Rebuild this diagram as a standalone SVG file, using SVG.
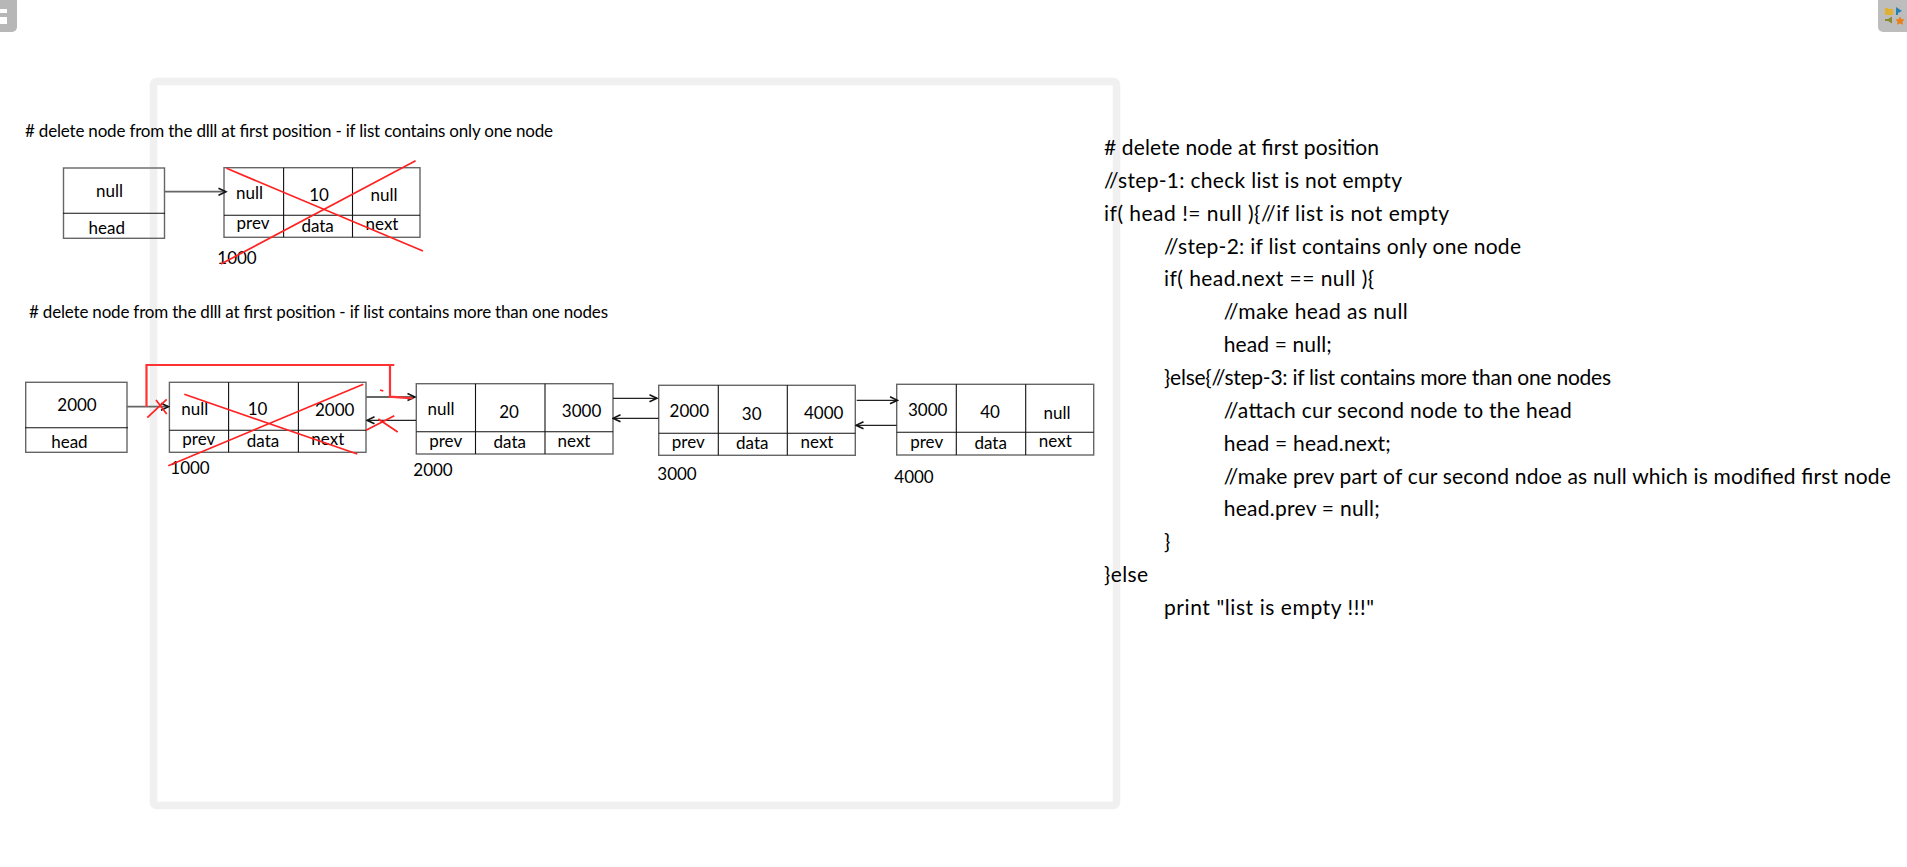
<svg xmlns="http://www.w3.org/2000/svg" width="1907" height="867" viewBox="0 0 1907 867">
<style>
text{font-family:"Lato","Noto Sans","DejaVu Sans",sans-serif;fill:#000}
.t{font-size:17px;text-anchor:middle}
.h{font-size:17px}
.c{font-size:21px}
.box{fill:none;stroke:#666;stroke-width:1.4}
.div{fill:none;stroke:#111;stroke-width:1.1}
.a{fill:none;stroke:#222;stroke-width:1.3;marker-end:url(#arrow)}
.g{stroke:#666;stroke-width:1.8}
.r{fill:none;stroke:#f22;stroke-width:1.7}
.rb{fill:none;stroke:#f33;stroke-width:2.2}
</style>
<defs>
<marker id="arrow" markerUnits="userSpaceOnUse" markerWidth="10" markerHeight="10" refX="8.500" refY="5" orient="auto"><path d="M1 1.500 L8.500 5 L1 8.500" fill="none" stroke="#111" stroke-width="1.500"/></marker>
</defs>
<rect id="chrome-left" x="-12" y="-12" width="29" height="44" rx="5" fill="#b7b7b7"/>
<path d="M0 9H7V13H0ZM0 17H7V24H0Z" fill="#fff"/>
<g id="chrome-right">
<rect x="1878" y="-12" width="41" height="44" rx="5" fill="#bdbdbd"/>
<path d="M1885 8h3l1 1h4v6h-8z" fill="#e0b030"/>
<path d="M1896 7l6 4-4 2v2h-2z" fill="#2a80b0"/>
<path d="M1885 19l3 0 4-2.500v7l-4-2.500h-3z" fill="#8a8a30"/>
<path d="M1900 16.500l1.500 2.500 3 .5-2 2.200.5 3-3-1.200-3 1.200.5-3-2-2.200 3-.5z" fill="#e98020"/>
</g>
<rect id="frame" x="153.500" y="81.500" width="963" height="724" rx="3" fill="none" stroke="#f0f0f0" stroke-width="7.500"/>
<text id="title-1" class="h" x="25" y="137.300" textLength="528" lengthAdjust="spacing"># delete node from the dlll at first position - if list contains only one node</text>
<text id="title-2" class="h" x="29" y="318" textLength="579" lengthAdjust="spacing"># delete node from the dlll at first position - if list contains more than one nodes</text>

<g id="head-1">
<rect class="box" x="63.500" y="168" width="101" height="70.300"/>
<path class="div" d="M63 213.300H165"/>
<text class="t" x="109.500" y="197.300">null</text>
<text class="t" x="106.800" y="234">head</text>
</g>
<g id="node-single">
<rect class="box" x="224" y="167.700" width="196" height="69.600"/>
<path class="div" d="M283.600 167.700V237.300M352.500 167.700V237.300M224 215.300H420"/>
<text class="t" x="249.500" y="199.300">null</text>
<text class="t" x="319" y="200.700">10</text>
<text class="t" x="384" y="201">null</text>
<text class="t" x="253" y="229.300">prev</text>
<text class="t" x="317.600" y="232">data</text>
<text class="t" x="382" y="230">next</text>
<text class="t" x="237" y="264">1000</text>
</g>
<g id="head-2">
<rect class="box" x="25.700" y="382.300" width="101.300" height="70"/>
<path class="div" d="M25 427.700H128"/>
<text class="t" x="77" y="411">2000</text>
<text class="t" x="69.400" y="447.700">head</text>
</g>
<g id="node-1000">
<rect class="box" x="169.400" y="382.300" width="196.600" height="70"/>
<path class="div" d="M228.600 382.300V452.300M298.400 382.300V452.300M169.400 430.300H366"/>
<text class="t" x="194.700" y="414.700">null</text>
<text class="t" x="257.600" y="415.300">10</text>
<text class="t" x="334.700" y="416">2000</text>
<text class="t" x="198.800" y="444.700">prev</text>
<text class="t" x="263" y="446.700">data</text>
<text class="t" x="327.800" y="445.300">next</text>
<text class="t" x="190" y="474">1000</text>
</g>
<g id="node-2000">
<rect class="box" x="416.300" y="383.700" width="196.700" height="70.300"/>
<path class="div" d="M475.500 383.700V454M545 383.700V454M416.300 431.700H613"/>
<text class="t" x="441" y="415.300">null</text>
<text class="t" x="509" y="418">20</text>
<text class="t" x="581.600" y="417.300">3000</text>
<text class="t" x="445.700" y="446.700">prev</text>
<text class="t" x="509.800" y="448">data</text>
<text class="t" x="574" y="446.700">next</text>
<text class="t" x="433" y="476">2000</text>
</g>
<g id="node-3000">
<rect class="box" x="658.700" y="385.300" width="196.600" height="70"/>
<path class="div" d="M718.300 385.300V455.300M787.300 385.300V455.300M658.700 433.300H855.300"/>
<text class="t" x="689.300" y="417.300">2000</text>
<text class="t" x="751.700" y="420.300">30</text>
<text class="t" x="823.700" y="419">4000</text>
<text class="t" x="688.300" y="448.300">prev</text>
<text class="t" x="752.300" y="449.300">data</text>
<text class="t" x="817" y="448.300">next</text>
<text class="t" x="677" y="480">3000</text>
</g>
<g id="node-4000">
<rect class="box" x="896.700" y="384.300" width="197" height="70.700"/>
<path class="div" d="M956.300 384.300V455M1025.700 384.300V455M896.700 432.300H1093.700"/>
<text class="t" x="927.700" y="416">3000</text>
<text class="t" x="990" y="418.300">40</text>
<text class="t" x="1057" y="418.700">null</text>
<text class="t" x="926.700" y="447.700">prev</text>
<text class="t" x="990.700" y="449.300">data</text>
<text class="t" x="1055.300" y="447.300">next</text>
<text class="t" x="914" y="483">4000</text>
</g>

<g id="connectors">
<path class="a g" d="M164.600 191.700H226"/>
<path class="a g" d="M127 406.700H168.500"/>
<path class="a g" d="M366 397H415"/>
<path class="a" d="M416 420.300H367"/>
<path class="a" d="M613 398.300H657"/>
<path class="a" d="M658.700 418.300H613"/>
<path class="a" d="M856.700 400.300H897.500"/>
<path class="a" d="M896.700 425.300H856"/>
</g>
<g id="deletions">
<path class="r" d="M226.500 168.300L423 251M221 264L415.600 160.700"/>
<path class="r" d="M184.300 394.300L357.300 454M168.300 465.700L363.300 384.300"/>
<path class="r" d="M147.300 417.700L166.700 399.300M156 400L166.700 414"/>
<path class="r" d="M366 430.300L394.300 415.700M378.300 419L397.700 432"/>
<path class="r" d="M380 390L383.300 391"/>
<path class="rb" d="M146.500 406.700V365H394.300M390 365V396.700L412.700 398.300"/>
</g>

<g id="code">
<text class="c" x="1104" y="155" textLength="275" lengthAdjust="spacing"># delete node at first position</text>
<text class="c" x="1104" y="187.900" textLength="298" lengthAdjust="spacing">//step-1: check list is not empty</text>
<text class="c" x="1104" y="220.700" textLength="345" lengthAdjust="spacing">if( head != null ){//if list is not empty</text>
<text class="c" x="1164" y="253.600" textLength="357" lengthAdjust="spacing">//step-2: if list contains only one node</text>
<text class="c" x="1164" y="286.400" textLength="210" lengthAdjust="spacing">if( head.next == null ){</text>
<text class="c" x="1223.800" y="319.300" textLength="184" lengthAdjust="spacing">//make head as null</text>
<text class="c" x="1223.800" y="352.100" textLength="108" lengthAdjust="spacing">head = null;</text>
<text class="c" x="1164" y="385" textLength="447" lengthAdjust="spacing">}else{//step-3: if list contains more than one nodes</text>
<text class="c" x="1223.800" y="417.800" textLength="348" lengthAdjust="spacing">//attach cur second node to the head</text>
<text class="c" x="1223.800" y="450.700" textLength="167" lengthAdjust="spacing">head = head.next;</text>
<text class="c" x="1223.800" y="483.500" textLength="667" lengthAdjust="spacing">//make prev part of cur second ndoe as null which is modified first node</text>
<text class="c" x="1223.800" y="516.400" textLength="156" lengthAdjust="spacing">head.prev = null;</text>
<text class="c" x="1164" y="549.200">}</text>
<text class="c" x="1104" y="582.100" textLength="44" lengthAdjust="spacing">}else</text>
<text class="c" x="1164" y="615" textLength="210" lengthAdjust="spacing">print "list is empty !!!"</text>
</g>
</svg>
